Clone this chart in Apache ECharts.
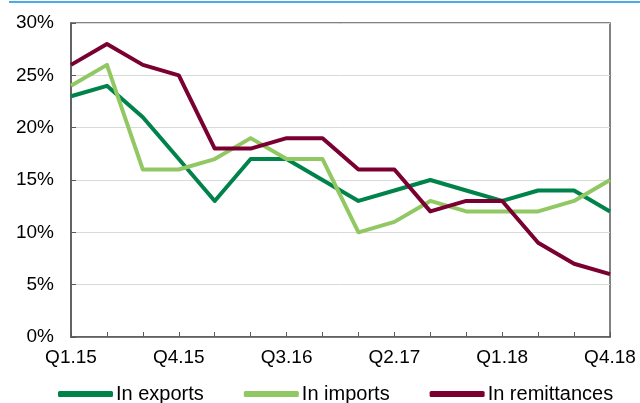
<!DOCTYPE html>
<html>
<head>
<meta charset="UTF-8">
<title>Growth rates</title>
<script type="text/javascript" src="https://cdn.jsdelivr.net/npm/echarts@6/dist/echarts.min.js"></script>
<style>
  body{margin:0;padding:0;background:#fff}
</style>
</head>
<body>
<div id="main" style="width:640px;height:403px"></div>
<script type="text/javascript">
	// quarters Q1.15 .. Q4.18
	var quarters = ['Q1.15','Q2.15','Q3.15','Q4.15','Q1.16','Q2.16','Q3.16','Q4.16',
	                'Q1.17','Q2.17','Q3.17','Q4.17','Q1.18','Q2.18','Q3.18','Q4.18'];
	var exportsData = [23, 24, 21, 17, 13, 17, 17, 15, 13, 14, 15, 14, 13, 14, 14, 12];
	var importsData = [24, 26, 16, 16, 17, 19, 17, 17, 10, 11, 13, 12, 12, 12, 13, 15];
	var remitData   = [26, 28, 26, 25, 18, 18, 19, 19, 16, 16, 12, 13, 13, 9, 7, 6];

	var myEcharts = echarts.init(document.getElementById('main'));
	var font = 'Liberation Sans, Arial, sans-serif';

	function line(name, data, color) {
		return {
			name: name,
			type: 'line',
			data: data,
			symbol: 'none',
			lineStyle: {color: color, width: 4, join: 'round'},
			itemStyle: {color: color}
		};
	}

	var option = {
		animation: false,
		graphic: [{
			type: 'rect',
			shape: {x: 9, y: 1, width: 631, height: 2},
			style: {fill: '#4BACE6'}
		}],
		grid: {
			left: 71, right: 30, top: 23, bottom: 66,
			show: true, borderColor: '#595959', borderWidth: 1.5
		},
		legend: {
			top: 379,
			left: 53,
			itemWidth: 55,
			itemHeight: 6,
			itemGap: 40,
			icon: 'roundRect',
			textStyle: {fontFamily: font, fontSize: 20, color: '#000', padding: [0, 0, 0, -2]},
			data: ['In exports', 'In imports', 'In remittances']
		},
		xAxis: {
			type: 'category',
			data: quarters,
			boundaryGap: false,
			axisLine: {lineStyle: {color: '#595959', width: 1.5}},
			axisTick: {inside: true, length: 5, interval: 0, lineStyle: {color: '#595959'}},
			axisLabel: {interval: 2, fontFamily: font, fontSize: 19, color: '#000', margin: 11},
			splitLine: {show: false}
		},
		yAxis: {
			type: 'value',
			min: 0, max: 30, interval: 5,
			axisLine: {show: true, lineStyle: {color: '#595959', width: 1.5}},
			axisTick: {show: true, inside: true, length: 5, lineStyle: {color: '#595959'}},
			axisLabel: {formatter: '{value}%', fontFamily: font, fontSize: 19, color: '#000', margin: 17},
			splitLine: {lineStyle: {color: '#D9D9D9', width: 1}}
		},
		series: [
			line('In exports', exportsData, '#00834A'),
			line('In imports', importsData, '#92C864'),
			line('In remittances', remitData, '#7A0031')
		]
	};

	myEcharts.setOption(option);
</script>
</body>
</html>
